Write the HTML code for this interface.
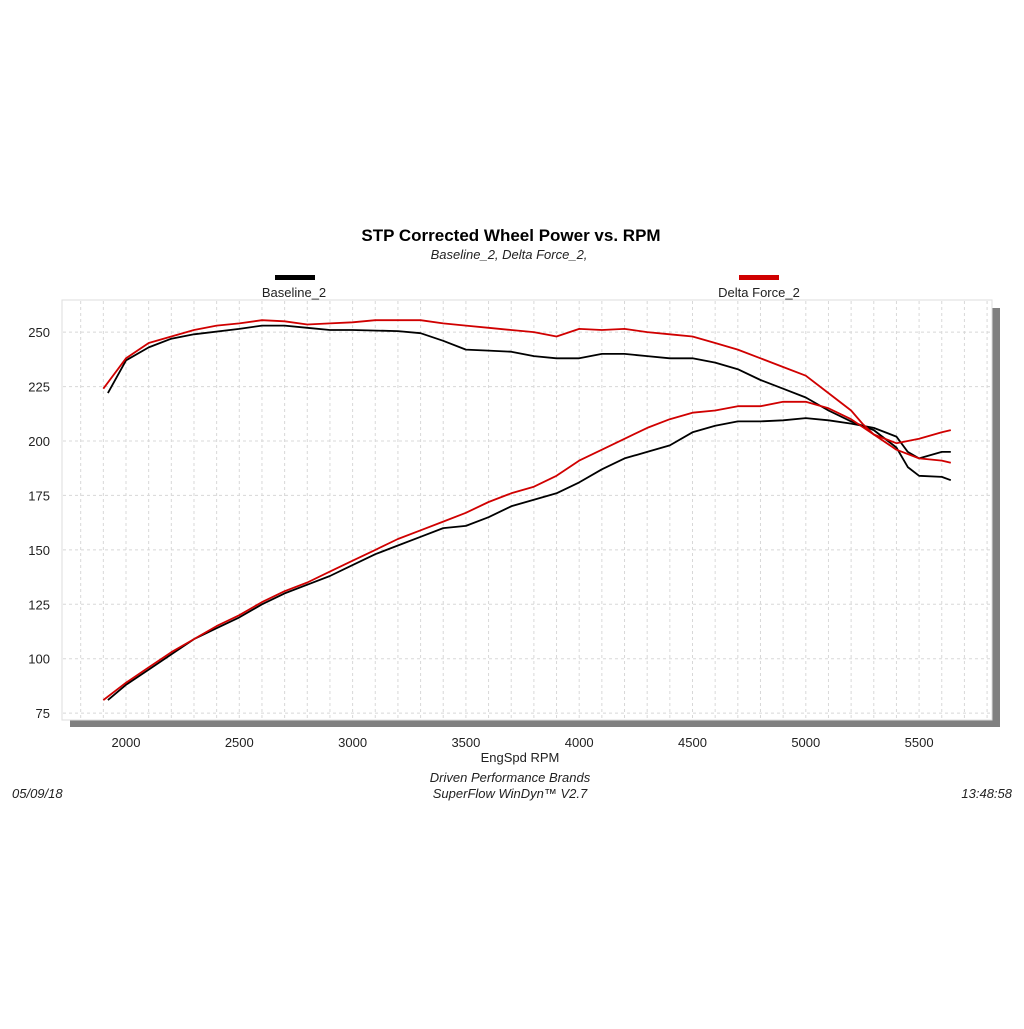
<!DOCTYPE html>
<html><head><meta charset="utf-8"><style>
body{margin:0;background:#fff;width:1024px;height:1024px;overflow:hidden}
svg text{font-family:"Liberation Sans",Arial,sans-serif}
</style></head><body>
<svg id="chart" width="1024" height="1024" xmlns="http://www.w3.org/2000/svg">
<text x="511" y="241" font-size="17" font-weight="bold" text-anchor="middle">STP Corrected Wheel Power vs. RPM</text>
<text x="509" y="259" font-size="13" font-style="italic" text-anchor="middle" fill="#222">Baseline_2, Delta Force_2,</text>
<rect x="992" y="308" width="8" height="419" fill="#808080"/>
<rect x="70" y="720" width="930" height="7" fill="#808080"/>
<rect x="62" y="300" width="930" height="420" fill="#fff" stroke="#ddd"/>
<g>
<rect x="275" y="275" width="40" height="5" fill="#000"/>
<text x="294" y="297" font-size="13" text-anchor="middle" fill="#222">Baseline_2</text></g>
<g>
<rect x="739" y="275" width="40" height="5" fill="#d00000"/>
<text x="759" y="297" font-size="13" text-anchor="middle" fill="#222">Delta Force_2</text></g>
<g id="grid"></g>
<g id="yticks"></g>
<g id="xticks"></g>
<g id="series"></g>
<text x="520" y="762" font-size="13" text-anchor="middle" fill="#222">EngSpd  RPM</text>
<text x="510" y="782" font-size="13" font-style="italic" text-anchor="middle" fill="#222">Driven Performance Brands</text>
<text x="510" y="798" font-size="13" font-style="italic" text-anchor="middle" fill="#222">SuperFlow WinDyn™  V2.7</text>
<text x="12" y="798" font-size="13" font-style="italic" fill="#222">05/09/18</text>
<text x="1012" y="798" font-size="13" font-style="italic" text-anchor="end" fill="#222">13:48:58</text>
</svg>
<script>
const yTicks=[75,100,125,150,175,200,225,250];
const xTicks=[2000,2500,3000,3500,4000,4500,5000,5500];
const baseHpRpm=[1920,2000,2100,2200,2300,2500,2600,2700,2800,2900,3000,3200,3300,3400,3500,3600,3700,3800,3900,4000,4100,4200,4300,4400,4500,4600,4700,4800,4900,5000,5100,5200,5300,5400,5450,5500,5600,5640];
const baseHp=[222,237,243,247,249,251.5,253,253,252,251,251,250.5,249.5,246,242,241.5,241,239,238,238,240,240,239,238,238,236,233,228,224,220,214,209,205,197,188,184,183.5,182];
const deltaHpRpm=[1900,2000,2100,2200,2300,2400,2500,2600,2700,2800,2900,3000,3100,3300,3400,3500,3600,3700,3800,3900,4000,4100,4200,4300,4400,4500,4600,4700,4800,4900,5000,5100,5200,5250,5300,5400,5500,5600,5640];
const deltaHp=[224,238,245,248,251,253,254,255.5,255,253.5,254,254.5,255.5,255.5,254,253,252,251,250,248,251.5,251,251.5,250,249,248,245,242,238,234,230,222,214,208,203,196,192,191,190];
const tqRpm=[1920,2000,2100,2200,2300,2400,2500,2600,2700,2800,2900,3000,3100,3200,3300,3400,3500,3600,3700,3800,3900,4000,4100,4200,4300,4400,4500,4600,4700,4800,4900,5000,5100,5200,5300,5400,5450,5500,5600,5640];
const baseTq=[81,88,95,102,109,114,119,125,130,134,138,143,148,152,156,160,161,165,170,173,176,181,187,192,195,198,204,207,209,209,209.5,210.5,209.5,208,206,202,195,192,195,195];
const deltaTqRpm=[1900,2000,2100,2200,2300,2400,2500,2600,2700,2800,2900,3000,3100,3200,3300,3400,3500,3600,3700,3800,3900,4000,4100,4200,4300,4400,4500,4600,4700,4800,4900,5000,5100,5200,5300,5400,5500,5600,5640];
const deltaTq=[81,89,96,103,109,115,120,126,131,135,140,145,150,155,159,163,167,172,176,179,184,191,196,201,206,210,213,214,216,216,218,218,215,210,203,199,201,204,205];
const NS='http://www.w3.org/2000/svg';
function xs(r){return 126+(r-2000)*0.2266;}
function ys(v){return 441-(v-200)*54.43/25;}
const grid=document.getElementById('grid');
for(let r=1800;r<=5900;r+=100){const x=xs(r);if(x<63||x>991)continue;
const l=document.createElementNS(NS,'line');


l.setAttribute('x1',x);l.setAttribute('x2',x);l.setAttribute('y1',301);l.setAttribute('y2',719);
l.setAttribute('stroke','#d8d8d8');l.setAttribute('stroke-dasharray','3,3');grid.appendChild(l);}
for(let v=75;v<=262;v+=25){const y=ys(v);if(y<301||y>719)continue;
const l=document.createElementNS(NS,'line');


l.setAttribute('x1',63);l.setAttribute('x2',991);l.setAttribute('y1',y);l.setAttribute('y2',y);
l.setAttribute('stroke','#d8d8d8');l.setAttribute('stroke-dasharray','3,3');grid.appendChild(l);}
const yt=document.getElementById('yticks');
yTicks.forEach(v=>{const t=document.createElementNS(NS,'text');


t.setAttribute('x',50);t.setAttribute('y',ys(v)+5);t.setAttribute('font-size','13');t.setAttribute('text-anchor','end');t.setAttribute('fill','#222');t.textContent=v;yt.appendChild(t);});
const xt=document.getElementById('xticks');
xTicks.forEach(v=>{const t=document.createElementNS(NS,'text');


t.setAttribute('x',xs(v));t.setAttribute('y',747);t.setAttribute('font-size','13');t.setAttribute('text-anchor','middle');t.setAttribute('fill','#222');t.textContent=v;xt.appendChild(t);});
const sg=document.getElementById('series');
function line(rs,vs,color,name){const p=document.createElementNS(NS,'polyline');


p.setAttribute('points',rs.map((r,i)=>xs(r).toFixed(1)+','+ys(vs[i]).toFixed(1)).join(' '));
p.setAttribute('fill','none');p.setAttribute('stroke',color);p.setAttribute('stroke-width','1.8');p.setAttribute('stroke-linejoin','round');sg.appendChild(p);}
line(tqRpm,baseTq,'#000','baseline-lower-line');
line(baseHpRpm,baseHp,'#000','baseline-upper-line');
line(deltaTqRpm,deltaTq,'#d00000','delta-force-lower-line');
line(deltaHpRpm,deltaHp,'#d00000','delta-force-upper-line');
</script>
</body></html>
